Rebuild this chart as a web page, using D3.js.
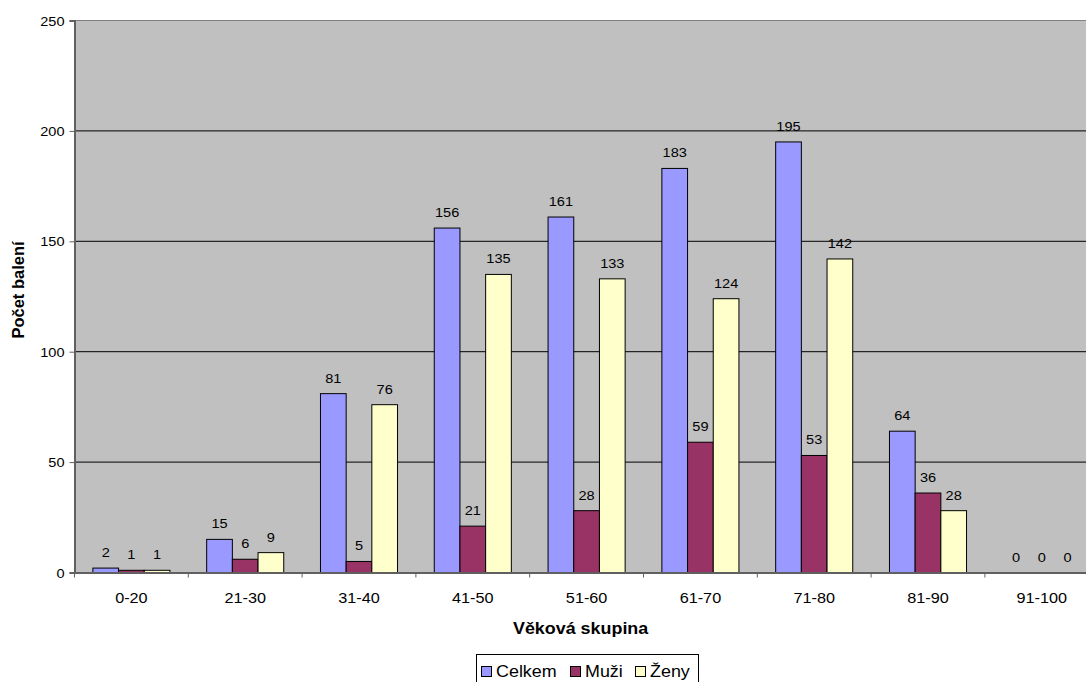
<!DOCTYPE html>
<html><head><meta charset="utf-8">
<script src="https://cdn.jsdelivr.net/npm/d3@7"></script>
<style>
html,body{margin:0;padding:0;background:#fff;overflow:hidden}
text{font-family:"Liberation Sans",Arial,sans-serif;fill:#000}
</style></head>
<body>
<svg id="c" width="1086" height="682"></svg>
<script>
const categories = ["0-20","21-30","31-40","41-50","51-60","61-70","71-80","81-90","91-100"];
const seriesNames = ["Celkem","Muži","Ženy"];
const celkem = [2,15,81,156,161,183,195,64,0];
const muzi   = [1,6,5,21,28,59,53,36,0];
const zeny   = [1,9,76,135,133,124,142,28,0];
const yTicks = [0,50,100,150,200,250];
const colors = ["#9999FF","#993366","#FFFFCC"];
const xTitle = "Věková skupina";
const yTitle = "Počet balení";

const values = [celkem, muzi, zeny];
const SX = 1.12; // horizontal stretch of text
const svg = d3.select("#c");
const pLeft = 74.5, pTop = 20.5, pBottom = 572.5, step = 113.8;
const pRight = pLeft + step * categories.length;

const x0 = d3.scaleBand().domain(categories).range([pLeft, pRight]).paddingInner(0).paddingOuter(0);
const x1 = d3.scaleBand().domain(seriesNames).range([0, x0.bandwidth()]).paddingInner(0).paddingOuter(0.715);
const y = d3.scaleLinear().domain([0, 250]).range([pBottom, pTop]);

function stext(g, x, yy, txt, size, opts = {}) {
  return g.append("text")
    .attr("transform", `translate(${x},${yy}) scale(${SX},1)`)
    .attr("text-anchor", opts.anchor || "middle")
    .style("font-size", size + "px")
    .style("font-weight", opts.bold ? "bold" : "normal")
    .text(txt);
}

// plot background
svg.append("rect").attr("x", pLeft).attr("y", pTop).attr("width", pRight - pLeft).attr("height", pBottom - pTop)
  .attr("fill", "#C0C0C0").attr("stroke", "#808080").attr("stroke-width", 1);

// gridlines
svg.append("g").selectAll("line").data(yTicks.filter(t => t > 0 && t < 250)).join("line")
  .attr("x1", pLeft).attr("x2", pRight).attr("y1", d => y(d)).attr("y2", d => y(d))
  .attr("stroke", "#000").attr("stroke-width", 1);

// bars
const groups = svg.append("g").selectAll("g").data(categories).join("g")
  .attr("transform", d => `translate(${x0(d)},0)`);
groups.each(function(cat, ci) {
  const g = d3.select(this);
  seriesNames.forEach((s, si) => {
    const v = values[si][ci];
    if (v > 0) {
      g.append("rect").attr("x", x1(s)).attr("y", y(v)).attr("width", x1.bandwidth()).attr("height", y(0) - y(v))
        .attr("fill", colors[si]).attr("stroke", "#000").attr("stroke-width", 1);
    }
  });
});

// axes
const yAxis = d3.axisLeft(y).tickValues(yTicks).tickSize(5).tickPadding(8);
const ya = svg.append("g").attr("transform", `translate(${pLeft},0)`).call(yAxis);
ya.select(".domain").attr("stroke", "#606060").attr("stroke-width", 2);
ya.selectAll(".tick line").attr("stroke", "#606060");
ya.selectAll(".tick text").remove();
yTicks.forEach(t => stext(ya, -10, y(t) + 5, String(t), 13, {anchor: "end"}));

const xAxis = d3.axisBottom(x0).tickSize(0).tickFormat("");
const xa = svg.append("g").attr("transform", `translate(0,${pBottom})`).call(xAxis);
xa.select(".domain").attr("stroke", "#606060").attr("stroke-width", 2);
xa.selectAll(".tick").remove();
xa.selectAll("line.sep").data(categories).join("line").attr("class", "sep")
  .attr("x1", d => x0(d)).attr("x2", d => x0(d)).attr("y1", 0).attr("y2", 5).attr("stroke", "#606060");
categories.forEach(c => stext(xa, x0(c) + x0.bandwidth() / 2, 30, c, 14.5));

// value labels
const lab = svg.append("g");
categories.forEach((c, ci) => {
  seriesNames.forEach((s, si) => {
    const v = values[si][ci];
    stext(lab, x0(c) + x1(s) + x1.bandwidth() / 2, y(v) - 11, String(v), 13);
  });
});

// titles
stext(svg, (pLeft + pRight) / 2 - 6, 634, xTitle, 16, {bold: true});
svg.append("text").attr("transform", `translate(24,290) rotate(-90)`).attr("text-anchor", "middle")
  .style("font-size", "16.5px").style("font-weight", "bold").text(yTitle);

// legend
const lg = svg.append("g");
lg.append("rect").attr("x", 476.5).attr("y", 654.5).attr("width", 222).attr("height", 40)
  .attr("fill", "#fff").attr("stroke", "#000").attr("stroke-width", 1);
const legX = [481, 570, 635];
seriesNames.forEach((s, i) => {
  lg.append("rect").attr("x", legX[i] + 0.5).attr("y", 666.5).attr("width", 10).attr("height", 10)
    .attr("fill", colors[i]).attr("stroke", "#000").attr("stroke-width", 1);
  stext(lg, legX[i] + 15, 677, s, 16, {anchor: "start"});
});
</script>
</body></html>
